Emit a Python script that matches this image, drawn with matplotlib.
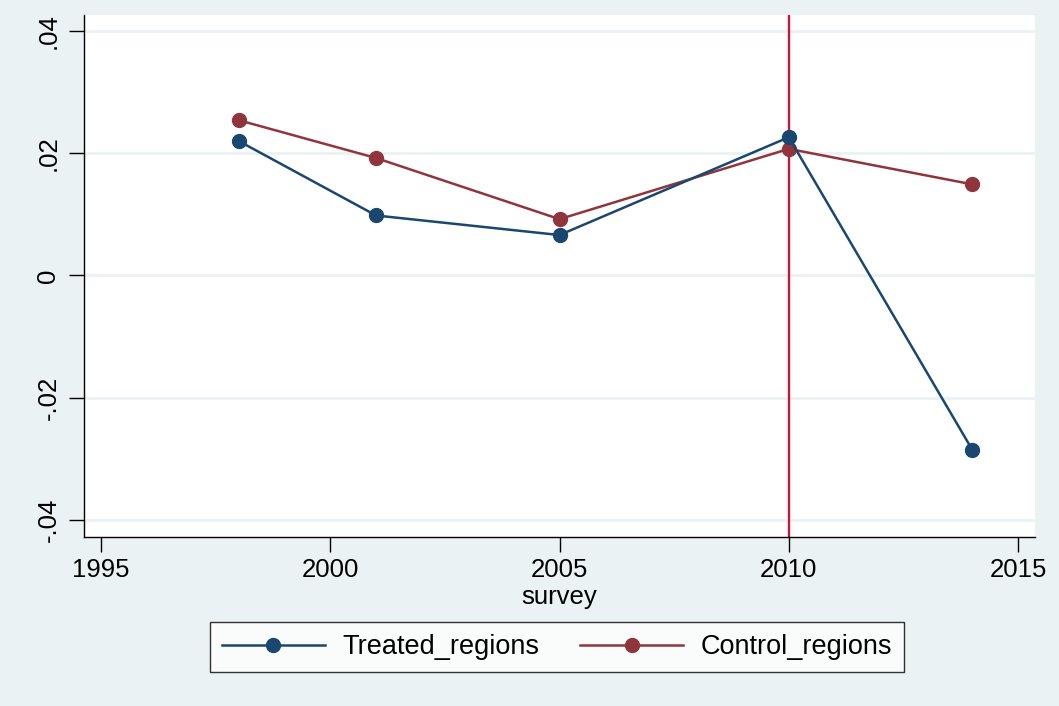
import matplotlib
matplotlib.use("Agg")
import matplotlib.pyplot as plt

years = [1998, 2001, 2005, 2010, 2014]
treated = [0.0220, 0.0098, 0.0066, 0.0226, -0.0285]
control = [0.0254, 0.0192, 0.0092, 0.0207, 0.0149]
xticks = [1995, 2000, 2005, 2010, 2015]
yticks = [-0.04, -0.02, 0, 0.02, 0.04]
ylabels = ["-.04", "-.02", "0", ".02", ".04"]
event_year = 2010

plt.rcParams['font.family'] = ['Liberation Sans', 'DejaVu Sans']
bg = '#eaf2f3'
navy = '#1a476f'
maroon = '#90353b'

fig = plt.figure(figsize=(10.59, 7.06), dpi=100, facecolor=bg)
ax = fig.add_axes([84/1059, 1-537/706, (1035-84)/1059, (537-15)/706])
ax.set_facecolor('white')

# stata-like grid
for y in yticks:
    ax.axhline(y, color=bg, lw=2, zorder=0)

ax.axvline(event_year, color='#c4163a', lw=1.7, zorder=1)
ax.plot(years, treated, color=navy, lw=1.8, marker='o', ms=10, label='Treated_regions', zorder=3)
ax.plot(years, control, color=maroon, lw=1.8, marker='o', ms=10, label='Control_regions', zorder=2)

ax.set_xlim(1994.63, 2015.37)
ax.set_ylim(-0.0428, 0.0426)
ax.set_xticks(xticks)
ax.set_yticks(yticks)
ax.set_yticklabels(ylabels, rotation=90, va='center')
ax.tick_params(axis='both', direction='out', length=11, width=1, labelsize=18.5, color='black')
ax.tick_params(axis='y', pad=6)
ax.tick_params(axis='x', pad=4)

for side in ['top', 'right']:
    ax.spines[side].set_visible(False)
for side in ['left', 'bottom']:
    ax.spines[side].set_color('black')
    ax.spines[side].set_linewidth(1)

ax.set_xlabel('survey', fontsize=18.5, labelpad=2)

leg = fig.legend(loc='center', bbox_to_anchor=(557/1059, 1-647/706), ncol=2,
                 fontsize=19.5, frameon=True, fancybox=False, edgecolor='black',
                 handlelength=3.8, handletextpad=0.65, columnspacing=1.5,
                 borderpad=0.45, borderaxespad=0)
leg.get_frame().set_linewidth(1)
leg.get_frame().set_facecolor('white')

fig.savefig('out.png', dpi=100, facecolor=bg)
